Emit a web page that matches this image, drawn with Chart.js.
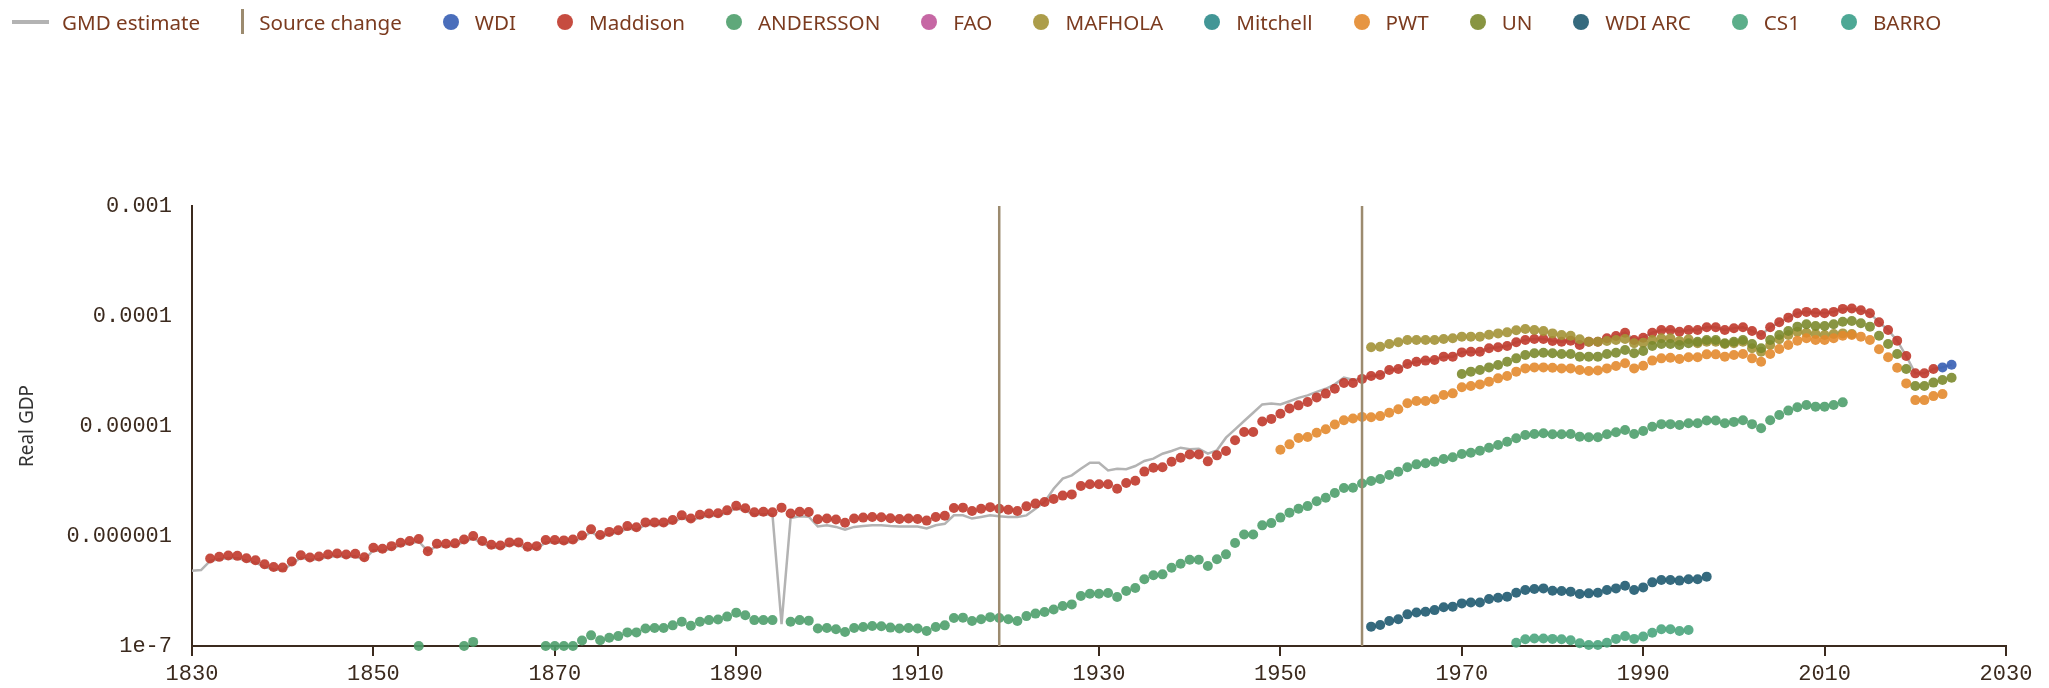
<!DOCTYPE html>
<html>
<head>
<meta charset="utf-8">
<title>Real GDP by source</title>
<script src="https://cdn.jsdelivr.net/npm/chart.js@4.4.1/dist/chart.umd.min.js"></script>
<style>
  body { margin: 0; background: #fff; }
  #wrap { position: relative; width: 2049px; height: 688px; }
  #legend {
    position: absolute; left: 12px; top: 0; height: 43px;
    display: flex; align-items: center; white-space: nowrap;
    font: 20.6px "Noto Sans", "Open Sans", sans-serif; color: #7b3b1f;
  }
  .item { display: flex; align-items: center; margin-right: 41px; }
  .sym { flex: none; margin-right: 16px; }
  .dot { width: 16px; height: 16px; border-radius: 50%; }
  .line { width: 37px; height: 4px; margin-right: 13px; }
  .bar { width: 3px; height: 25px; margin-right: 15px; }
</style>
</head>
<body>
<div id="wrap">
  <canvas id="gdp" width="2049" height="688"></canvas>
  <div id="legend"></div>
</div>
<script>
// axis ticks
const xTicks = [1830, 1850, 1870, 1890, 1910, 1930, 1950, 1970, 1990, 2010, 2030];
const yTicks = [1e-7, 1e-6, 1e-5, 1e-4, 1e-3];
const yTickLabels = ['1e-7', '0.000001', '0.00001', '0.0001', '0.001'];

// years where the underlying source switches
const sourceChangeYears = [1919, 1959];

// annual series, each one starts at the year given next to it (null = no value)
const gmdStart = 1830;
const gmdValues = [
  4.84e-7, 4.9e-7, 5.93e-7, 6.14e-7, 6.32e-7, 6.27e-7, 5.97e-7, 5.72e-7, 5.25e-7, 4.97e-7,
  4.9e-7, 5.57e-7, 6.36e-7, 6.05e-7, 6.18e-7, 6.45e-7, 6.58e-7, 6.45e-7, 6.54e-7, 6.1e-7,
  7.43e-7, 7.27e-7, 7.69e-7, 8.26e-7, 8.55e-7, 8.91e-7, 7.28e-7, 8.08e-7, 8.08e-7, 8.14e-7,
  8.84e-7, 9.5e-7, 8.55e-7, 7.9e-7, 7.79e-7, 8.31e-7, 8.31e-7, 7.58e-7, 7.69e-7, 8.73e-7,
  8.73e-7, 8.66e-7, 8.84e-7, 9.6e-7, 1.09e-6, 9.7e-7, 1.04e-6, 1.07e-6, 1.17e-6, 1.14e-6,
  1.26e-6, 1.26e-6, 1.26e-6, 1.33e-6, 1.46e-6, 1.37e-6, 1.48e-6, 1.52e-6, 1.53e-6, 1.62e-6,
  1.79e-6, 1.7e-6, 1.56e-6, 1.58e-6, 1.56e-6, 1.58e-7, 1.46e-6, 1.51e-6, 1.5e-6, 1.22e-6,
  1.25e-6, 1.21e-6, 1.14e-6, 1.21e-6, 1.23e-6, 1.25e-6, 1.25e-6, 1.23e-6, 1.22e-6, 1.22e-6,
  1.22e-6, 1.17e-6, 1.25e-6, 1.29e-6, 1.54e-6, 1.54e-6, 1.44e-6, 1.49e-6, 1.54e-6, 1.51e-6,
  1.49e-6, 1.49e-6, 1.54e-6, 1.77e-6, 2.04e-6, 2.69e-6, 3.32e-6, 3.56e-6, 4.09e-6, 4.64e-6,
  4.64e-6, 3.95e-6, 4.09e-6, 4.04e-6, 4.33e-6, 4.81e-6, 5.05e-6, 5.6e-6, 5.93e-6, 6.35e-6,
  6.14e-6, 6.22e-6, 5.6e-6, 6.01e-6, 7.83e-6, 9.33e-6, 1.11e-5, 1.32e-5, 1.57e-5, 1.6e-5,
  1.57e-5, 1.68e-5, 1.8e-5, 1.9e-5, 2.04e-5, 2.18e-5, 2.39e-5, 2.75e-5, 2.64e-5, 2.68e-5,
  2.85e-5, 2.91e-5, 3.23e-5, 3.3e-5, 3.66e-5, 3.84e-5, 3.93e-5, 3.98e-5, 4.27e-5, 4.27e-5,
  4.67e-5, 4.74e-5, 4.74e-5, 5.09e-5, 5.19e-5, 5.34e-5, 5.77e-5, 6.05e-5, 6.18e-5, 6.18e-5,
  5.93e-5, 5.84e-5, 5.97e-5, 5.45e-5, 5.84e-5, 5.84e-5, 6.27e-5, 6.58e-5, 7.05e-5, 6.05e-5,
  6.35e-5, 7.05e-5, 7.46e-5, 7.46e-5, 7.2e-5, 7.46e-5, 7.46e-5, 7.89e-5, 7.89e-5, 7.46e-5,
  7.73e-5, 7.89e-5, 7.31e-5, 6.72e-5, 7.89e-5, 8.76e-5, 9.66e-5, 1.06e-4, 1.09e-4, 1.07e-4,
  1.06e-4, 1.09e-4, 1.16e-4, 1.17e-4, 1.13e-4, 1.06e-4, 8.76e-5, 7.46e-5, 5.97e-5, 4.33e-5,
  3.01e-5, 3.01e-5, 3.3e-5, 3.41e-5, 3.61e-5
];

const wdiStart = 2023;
const wdiValues = [3.41e-5, 3.61e-5];

const maddisonStart = 1830;
const maddisonValues = [
  null, null, 6.24e-7, 6.46e-7, 6.65e-7, 6.6e-7, 6.28e-7, 6.02e-7, 5.53e-7, 5.23e-7,
  5.16e-7, 5.86e-7, 6.69e-7, 6.37e-7, 6.51e-7, 6.79e-7, 6.93e-7, 6.79e-7, 6.88e-7, 6.42e-7,
  7.82e-7, 7.65e-7, 8.09e-7, 8.69e-7, 9.0e-7, 9.38e-7, 7.28e-7, 8.51e-7, 8.51e-7, 8.57e-7,
  9.31e-7, 1.0e-6, 9.0e-7, 8.32e-7, 8.2e-7, 8.75e-7, 8.75e-7, 7.98e-7, 8.09e-7, 9.19e-7,
  9.19e-7, 9.12e-7, 9.31e-7, 1.01e-6, 1.15e-6, 1.02e-6, 1.09e-6, 1.13e-6, 1.23e-6, 1.2e-6,
  1.33e-6, 1.33e-6, 1.33e-6, 1.4e-6, 1.54e-6, 1.44e-6, 1.56e-6, 1.6e-6, 1.61e-6, 1.71e-6,
  1.88e-6, 1.79e-6, 1.64e-6, 1.66e-6, 1.64e-6, 1.81e-6, 1.6e-6, 1.66e-6, 1.65e-6, 1.42e-6,
  1.44e-6, 1.41e-6, 1.32e-6, 1.44e-6, 1.47e-6, 1.49e-6, 1.48e-6, 1.45e-6, 1.43e-6, 1.44e-6,
  1.43e-6, 1.38e-6, 1.49e-6, 1.53e-6, 1.8e-6, 1.81e-6, 1.69e-6, 1.77e-6, 1.83e-6, 1.77e-6,
  1.73e-6, 1.69e-6, 1.86e-6, 1.97e-6, 2.04e-6, 2.17e-6, 2.33e-6, 2.39e-6, 2.85e-6, 2.95e-6,
  2.95e-6, 2.95e-6, 2.69e-6, 3.03e-6, 3.18e-6, 3.85e-6, 4.18e-6, 4.21e-6, 4.74e-6, 5.15e-6,
  5.52e-6, 5.52e-6, 4.77e-6, 5.41e-6, 5.93e-6, 7.41e-6, 8.82e-6, 8.82e-6, 1.1e-5, 1.16e-5,
  1.29e-5, 1.44e-5, 1.54e-5, 1.65e-5, 1.82e-5, 1.97e-5, 2.18e-5, 2.46e-5, 2.46e-5, 2.68e-5,
  2.85e-5, 2.91e-5, 3.23e-5, 3.3e-5, 3.66e-5, 3.84e-5, 3.93e-5, 3.98e-5, 4.27e-5, 4.27e-5,
  4.67e-5, 4.74e-5, 4.74e-5, 5.09e-5, 5.19e-5, 5.34e-5, 5.77e-5, 6.05e-5, 6.18e-5, 6.18e-5,
  5.93e-5, 5.84e-5, 5.97e-5, 5.45e-5, 5.84e-5, 5.84e-5, 6.27e-5, 6.58e-5, 7.05e-5, 6.05e-5,
  6.35e-5, 7.05e-5, 7.46e-5, 7.46e-5, 7.2e-5, 7.46e-5, 7.46e-5, 7.89e-5, 7.89e-5, 7.46e-5,
  7.73e-5, 7.89e-5, 7.31e-5, 6.72e-5, 7.89e-5, 8.76e-5, 9.66e-5, 1.06e-4, 1.09e-4, 1.07e-4,
  1.06e-4, 1.09e-4, 1.16e-4, 1.17e-4, 1.13e-4, 1.06e-4, 8.76e-5, 7.46e-5, 5.97e-5, 4.33e-5,
  3.01e-5, 3.01e-5, 3.3e-5
];

const anderssonStart = 1850;
const anderssonValues = [
  null, null, null, null, null, 1e-7, null, null, null, null,
  1e-7, 1.09e-7, null, null, null, null, null, null, null, 1e-7,
  1e-7, 1e-7, 1e-7, 1.12e-7, 1.25e-7, 1.13e-7, 1.19e-7, 1.23e-7, 1.33e-7, 1.33e-7,
  1.44e-7, 1.46e-7, 1.46e-7, 1.54e-7, 1.66e-7, 1.53e-7, 1.66e-7, 1.72e-7, 1.74e-7, 1.85e-7,
  2.01e-7, 1.9e-7, 1.72e-7, 1.72e-7, 1.72e-7, null, 1.66e-7, 1.72e-7, 1.7e-7, 1.44e-7,
  1.46e-7, 1.42e-7, 1.34e-7, 1.46e-7, 1.49e-7, 1.52e-7, 1.51e-7, 1.47e-7, 1.44e-7, 1.46e-7,
  1.44e-7, 1.37e-7, 1.49e-7, 1.54e-7, 1.8e-7, 1.81e-7, 1.69e-7, 1.75e-7, 1.83e-7, 1.8e-7,
  1.75e-7, 1.69e-7, 1.87e-7, 1.97e-7, 2.04e-7, 2.15e-7, 2.31e-7, 2.39e-7, 2.85e-7, 2.99e-7,
  2.99e-7, 3.03e-7, 2.79e-7, 3.16e-7, 3.37e-7, 4.04e-7, 4.39e-7, 4.48e-7, 5.15e-7, 5.6e-7,
  6.09e-7, 6.09e-7, 5.34e-7, 6.14e-7, 6.81e-7, 8.64e-7, 1.03e-6, 1.03e-6, 1.25e-6, 1.31e-6,
  1.47e-6, 1.63e-6, 1.77e-6, 1.87e-6, 2.07e-6, 2.23e-6, 2.46e-6, 2.73e-6, 2.75e-6, 3.0e-6,
  3.16e-6, 3.3e-6, 3.59e-6, 3.84e-6, 4.21e-6, 4.48e-6, 4.58e-6, 4.74e-6, 5.01e-6, 5.19e-6,
  5.56e-6, 5.72e-6, 5.97e-6, 6.35e-6, 6.72e-6, 7.2e-6, 7.73e-6, 8.28e-6, 8.46e-6, 8.58e-6,
  8.4e-6, 8.4e-6, 8.46e-6, 8.0e-6, 7.89e-6, 7.89e-6, 8.4e-6, 8.76e-6, 9.2e-6, 8.46e-6,
  9.01e-6, 9.86e-6, 1.04e-5, 1.04e-5, 1.02e-5, 1.06e-5, 1.06e-5, 1.12e-5, 1.12e-5, 1.06e-5,
  1.09e-5, 1.13e-5, 1.04e-5, 9.53e-6, 1.13e-5, 1.26e-5, 1.38e-5, 1.48e-5, 1.55e-5, 1.5e-5,
  1.5e-5, 1.55e-5, 1.64e-5
];

const faoStart = 1960;
const faoValues = [];

const mafholaStart = 1960;
const mafholaValues = [
  5.19e-5, 5.26e-5, 5.56e-5, 5.77e-5, 6.05e-5, 6.05e-5, 6.05e-5, 6.05e-5, 6.18e-5, 6.27e-5,
  6.49e-5, 6.49e-5, 6.49e-5, 6.76e-5, 6.95e-5, 7.1e-5, 7.41e-5, 7.62e-5, 7.46e-5, 7.31e-5,
  6.95e-5, 6.72e-5, 6.62e-5, 6.14e-5, 5.84e-5, 5.84e-5, 5.93e-5, 6.05e-5, 6.18e-5, 5.65e-5,
  5.72e-5, 6.05e-5, 6.27e-5, 6.27e-5, 5.93e-5, 6.14e-5, 5.65e-5, 5.84e-5, 5.84e-5, 5.56e-5,
  5.65e-5, 5.84e-5, 5.09e-5, 4.74e-5, 5.45e-5, 6.14e-5, 6.72e-5, 7.2e-5, 7.05e-5, 6.86e-5,
  6.72e-5, 6.86e-5, 6.95e-5, 6.86e-5
];

const mitchellStart = 1960;
const mitchellValues = [];

const pwtStart = 1950;
const pwtValues = [
  6.09e-6, 6.81e-6, 7.78e-6, 7.94e-6, 8.69e-6, 9.33e-6, 1.03e-5, 1.13e-5, 1.17e-5, 1.21e-5,
  1.2e-5, 1.23e-5, 1.32e-5, 1.42e-5, 1.61e-5, 1.69e-5, 1.69e-5, 1.75e-5, 1.91e-5, 1.98e-5,
  2.25e-5, 2.31e-5, 2.39e-5, 2.53e-5, 2.71e-5, 2.85e-5, 3.12e-5, 3.34e-5, 3.41e-5, 3.41e-5,
  3.39e-5, 3.34e-5, 3.34e-5, 3.23e-5, 3.16e-5, 3.19e-5, 3.34e-5, 3.51e-5, 3.72e-5, 3.34e-5,
  3.53e-5, 3.93e-5, 4.12e-5, 4.18e-5, 4.06e-5, 4.21e-5, 4.21e-5, 4.48e-5, 4.48e-5, 4.27e-5,
  4.42e-5, 4.52e-5, 4.12e-5, 3.84e-5, 4.52e-5, 5.01e-5, 5.45e-5, 5.97e-5, 6.27e-5, 6.05e-5,
  6.05e-5, 6.27e-5, 6.62e-5, 6.72e-5, 6.49e-5, 6.05e-5, 4.98e-5, 4.21e-5, 3.39e-5, 2.44e-5,
  1.72e-5, 1.72e-5, 1.87e-5, 1.95e-5
];

const unStart = 1970;
const unValues = [
  2.97e-5, 3.12e-5, 3.23e-5, 3.41e-5, 3.59e-5, 3.84e-5, 4.12e-5, 4.42e-5, 4.58e-5, 4.64e-5,
  4.58e-5, 4.52e-5, 4.52e-5, 4.27e-5, 4.27e-5, 4.27e-5, 4.52e-5, 4.64e-5, 4.91e-5, 4.58e-5,
  4.81e-5, 5.34e-5, 5.56e-5, 5.56e-5, 5.45e-5, 5.65e-5, 5.84e-5, 6.05e-5, 6.05e-5, 5.65e-5,
  5.84e-5, 6.05e-5, 5.56e-5, 5.09e-5, 6.05e-5, 6.72e-5, 7.31e-5, 8.0e-5, 8.4e-5, 8.11e-5,
  8.11e-5, 8.4e-5, 8.88e-5, 9.01e-5, 8.58e-5, 8.0e-5, 6.62e-5, 5.56e-5, 4.52e-5, 3.3e-5,
  2.31e-5, 2.31e-5, 2.48e-5, 2.62e-5, 2.75e-5
];

const wdiArcStart = 1960;
const wdiArcValues = [
  1.5e-7, 1.55e-7, 1.69e-7, 1.75e-7, 1.94e-7, 2.02e-7, 2.05e-7, 2.12e-7, 2.25e-7, 2.28e-7,
  2.44e-7, 2.49e-7, 2.49e-7, 2.67e-7, 2.75e-7, 2.81e-7, 3.05e-7, 3.23e-7, 3.3e-7, 3.34e-7,
  3.18e-7, 3.16e-7, 3.12e-7, 2.97e-7, 3.01e-7, 3.05e-7, 3.23e-7, 3.34e-7, 3.53e-7, 3.23e-7,
  3.41e-7, 3.79e-7, 3.98e-7, 3.98e-7, 3.93e-7, 4.04e-7, 4.04e-7, 4.27e-7
];

const cs1Start = 1976;
const cs1Values = [
  1.07e-7, 1.15e-7, 1.17e-7, 1.17e-7, 1.16e-7, 1.15e-7, 1.13e-7, 1.06e-7, 1.02e-7, 1.02e-7,
  1.07e-7, 1.16e-7, 1.23e-7, 1.16e-7, 1.22e-7, 1.32e-7, 1.42e-7, 1.42e-7, 1.37e-7, 1.4e-7
];

const barroStart = 1960;
const barroValues = [];

const axisColor = '#3b2a1e';
const tickFont = { family: '"Liberation Mono", "DejaVu Sans Mono", monospace', size: 22 };

const toPoints = (start, values) => values.map((v, i) => ({ x: start + i, y: v }));

const dots = (label, color, start, values, order) => ({
  label,
  data: toPoints(start, values),
  backgroundColor: color,
  borderWidth: 0,
  pointRadius: 5,
  pointHoverRadius: 5,
  showLine: false,
  clip: false,
  order,
  legendSymbol: 'dot'
});

// vertical markers: two points per year, split by a gap
const changePoints = [];
sourceChangeYears.forEach((yr, i) => {
  if (i > 0) changePoints.push({ x: yr, y: null });
  changePoints.push({ x: yr, y: yTicks[0] }, { x: yr, y: yTicks[yTicks.length - 1] });
});

const datasets = [
  {
    label: 'GMD estimate',
    data: toPoints(gmdStart, gmdValues),
    showLine: true,
    borderColor: '#b3b3b3',
    borderWidth: 2.5,
    pointRadius: 0,
    pointHoverRadius: 0,
    tension: 0,
    order: 50,
    legendSymbol: 'line'
  },
  {
    label: 'Source change',
    data: changePoints,
    showLine: true,
    spanGaps: false,
    borderColor: '#9c8b6f',
    borderWidth: 2.5,
    pointRadius: 0,
    pointHoverRadius: 0,
    order: 0,
    legendSymbol: 'bar'
  },
  dots('WDI', 'rgba(59, 98, 181, 0.92)', wdiStart, wdiValues, 12),
  dots('Maddison', 'rgba(192, 57, 43, 0.9)', maddisonStart, maddisonValues, 11),
  dots('ANDERSSON', 'rgba(78, 159, 107, 0.9)', anderssonStart, anderssonValues, 10),
  dots('FAO', 'rgba(192, 87, 154, 0.9)', faoStart, faoValues, 9),
  dots('MAFHOLA', 'rgba(163, 146, 54, 0.9)', mafholaStart, mafholaValues, 8),
  dots('Mitchell', 'rgba(46, 139, 139, 0.9)', mitchellStart, mitchellValues, 7),
  dots('PWT', 'rgba(227, 138, 46, 0.9)', pwtStart, pwtValues, 6),
  dots('UN', 'rgba(123, 138, 46, 0.9)', unStart, unValues, 5),
  dots('WDI ARC', 'rgba(31, 90, 112, 0.9)', wdiArcStart, wdiArcValues, 4),
  dots('CS1', 'rgba(74, 165, 125, 0.9)', cs1Start, cs1Values, 3),
  dots('BARRO', 'rgba(58, 158, 138, 0.9)', barroStart, barroValues, 2)
];

const chart = new Chart(document.getElementById('gdp'), {
  type: 'scatter',
  data: { datasets },
  options: {
    responsive: false,
    animation: false,
    devicePixelRatio: 1,
    events: [],
    layout: { padding: { top: 206, right: 43, bottom: 0, left: 0 } },
    plugins: {
      legend: { display: false },
      tooltip: { enabled: false }
    },
    scales: {
      x: {
        type: 'linear',
        min: xTicks[0],
        max: xTicks[xTicks.length - 1],
        afterBuildTicks: (scale) => { scale.ticks = xTicks.map(v => ({ value: v })); },
        afterFit: (scale) => { scale.height = 42; },
        ticks: {
          callback: (v) => String(v),
          font: tickFont,
          color: axisColor,
          padding: 5,
          maxRotation: 0,
          autoSkip: false
        },
        grid: {
          drawOnChartArea: false,
          drawTicks: true,
          tickLength: 10,
          lineWidth: 2,
          color: axisColor
        },
        border: { display: true, color: axisColor, width: 2 }
      },
      y: {
        type: 'logarithmic',
        min: yTicks[0],
        max: yTicks[yTicks.length - 1],
        afterBuildTicks: (scale) => { scale.ticks = yTicks.map(v => ({ value: v })); },
        afterFit: (scale) => { scale.width = 192; },
        ticks: {
          callback: (v) => yTickLabels[yTicks.indexOf(v)],
          font: tickFont,
          color: axisColor,
          padding: 20,
          autoSkip: false
        },
        grid: { display: false, drawTicks: false },
        border: { display: true, color: axisColor, width: 2 },
        title: {
          display: true,
          text: 'Real GDP',
          color: '#333333',
          font: { family: '"Noto Sans", "Open Sans", sans-serif', size: 19 },
          padding: { top: 16, bottom: 0 }
        }
      }
    }
  }
});

// html legend built from the chart's datasets
const legend = document.getElementById('legend');
chart.data.datasets.forEach((ds) => {
  const item = document.createElement('div');
  item.className = 'item';
  const sym = document.createElement('span');
  sym.className = 'sym ' + ds.legendSymbol;
  sym.style.background = ds.legendSymbol === 'dot' ? ds.backgroundColor : ds.borderColor;
  const txt = document.createElement('span');
  txt.textContent = ds.label;
  item.appendChild(sym);
  item.appendChild(txt);
  legend.appendChild(item);
});
</script>
</body>
</html>
